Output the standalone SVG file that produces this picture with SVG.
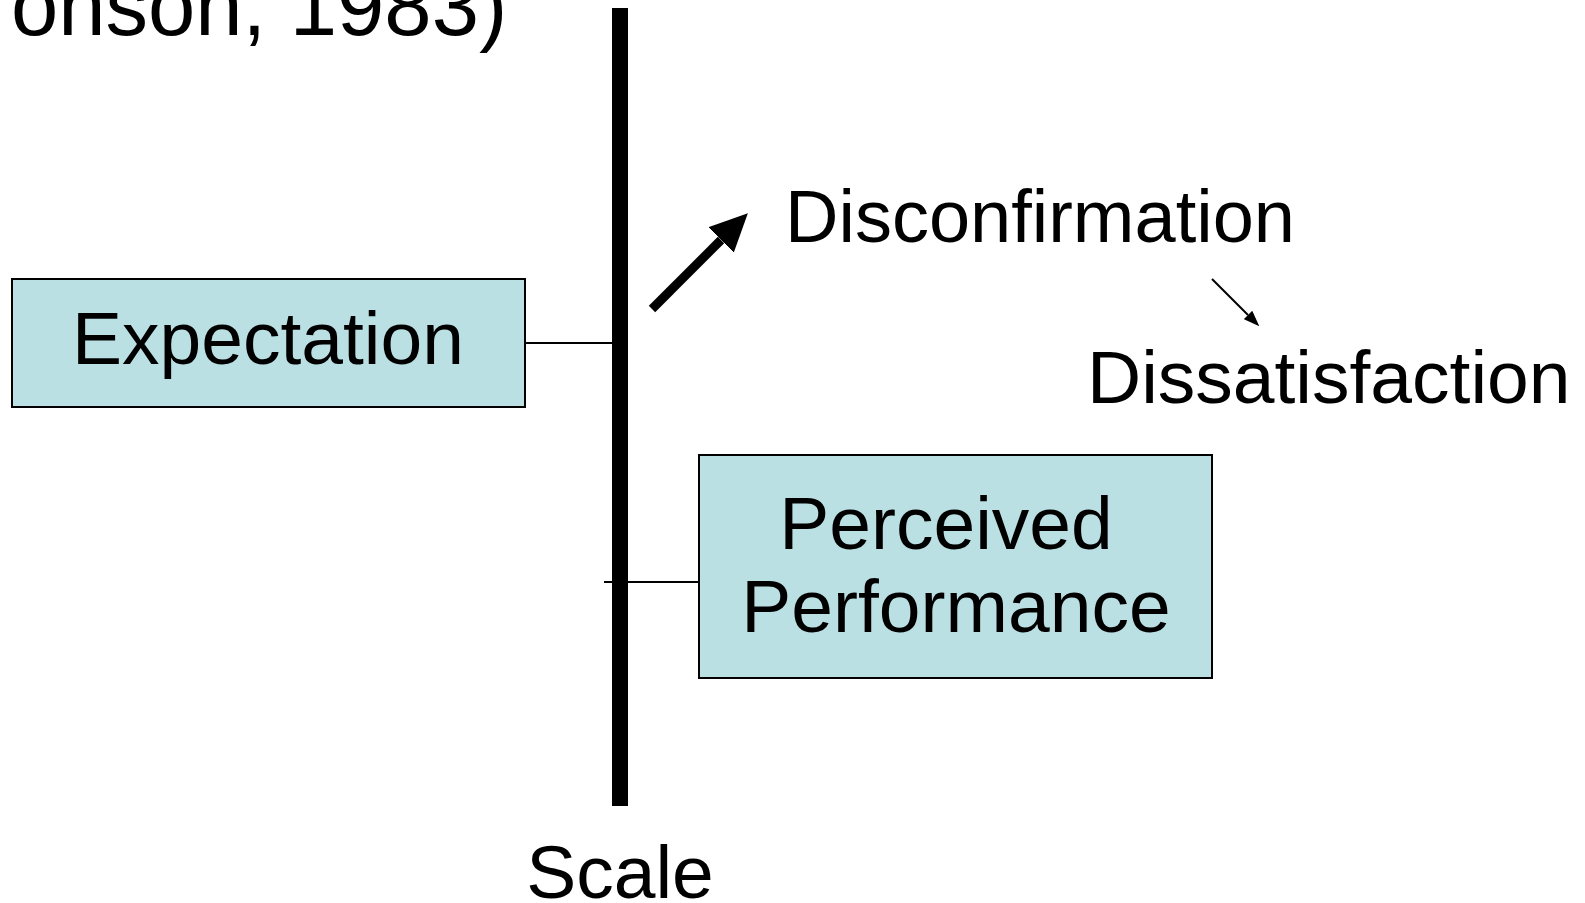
<svg xmlns="http://www.w3.org/2000/svg" width="1585" height="903" viewBox="0 0 1585 903">
  <style>
    .box { fill: #BBE0E3; stroke: #000; stroke-width: 2; }
    .lbl { font-family: "Liberation Sans", Arial, sans-serif; font-size: 75px; fill: #000; }
    .title { font-family: "Liberation Sans", Arial, sans-serif; font-size: 85px; fill: #000; }
    .wire { stroke: #000; stroke-width: 2; fill: none; }
  </style>
  <defs>
    <marker id="bigHead" markerUnits="userSpaceOnUse" viewBox="0 0 38 36" refX="0" refY="18" markerWidth="38" markerHeight="36" orient="auto">
      <path d="M0,0 L38,18 L0,36 Z" fill="#000"/>
    </marker>
    <marker id="smallHead" markerUnits="userSpaceOnUse" viewBox="0 0 16 12" refX="0" refY="6" markerWidth="16" markerHeight="12" orient="auto">
      <path d="M0,0 L16,6 L0,12 Z" fill="#000"/>
    </marker>
  </defs>

  <rect width="1585" height="903" fill="#fff"/>

  <!-- title line, running off the top edge -->
  <text class="title" x="11" y="35">onson, 1983)</text>

  <!-- scale axis -->
  <g id="scale">
    <rect x="612" y="8" width="16" height="798" fill="#000"/>
    <text class="lbl" x="620" y="898" text-anchor="middle">Scale</text>
  </g>

  <g id="expectation">
    <rect class="box" x="12" y="279" width="513" height="128"/>
    <text class="lbl" x="268" y="364" text-anchor="middle">Expectation</text>
  </g>

  <g id="perceived-performance">
    <rect class="box" x="699" y="455" width="513" height="223"/>
    <text class="lbl" x="946" y="549" text-anchor="middle">Perceived</text>
    <text class="lbl" x="956" y="632" text-anchor="middle">Performance</text>
  </g>

  <g id="disconfirmation">
    <text class="lbl" x="785" y="242" style="font-size:74px">Disconfirmation</text>
  </g>

  <g id="dissatisfaction">
    <text class="lbl" x="1087" y="403">Dissatisfaction</text>
  </g>

  <g id="connectors">
    <line class="wire" x1="525" y1="343" x2="612" y2="343"/>
    <line class="wire" x1="604" y1="582" x2="699" y2="582"/>
    <line x1="652" y1="309" x2="721" y2="240" stroke="#000" stroke-width="9" marker-end="url(#bigHead)"/>
    <line x1="1212" y1="279" x2="1248" y2="315" stroke="#000" stroke-width="2" marker-end="url(#smallHead)"/>
  </g>
</svg>
